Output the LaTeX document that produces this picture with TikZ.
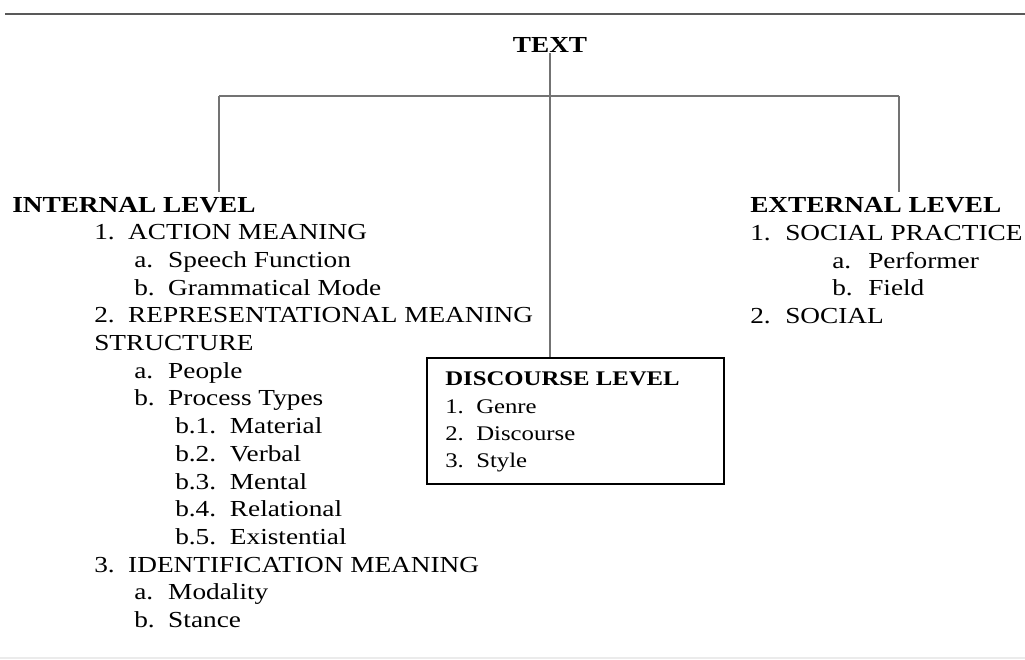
\documentclass[tikz,border=0pt]{standalone}
\usepackage{fontspec}
\setmainfont[FakeStretch=1.19]{Liberation Serif}
\newcommand{\itm}[2]{\makebox[25.5pt][l]{#1}#2}
\newcommand{\subitm}[2]{\makebox[41pt][l]{#1}#2}

\begin{document}
\begin{tikzpicture}[x=0.75pt, y=-0.75pt,
    every node/.style={anchor=base west, inner sep=0pt, font=\fontsize{17.2}{20}\selectfont},
    head/.style={font=\fontsize{17.2}{20}\selectfont\bfseries},
    boxtext/.style={font=\fontsize{15.6}{19}\selectfont},
    boxhead/.style={font=\fontsize{15.6}{19}\selectfont\bfseries},
    conn/.style={draw=black!55, line width=0.9pt},
    levelbox/.style={draw, line width=1.5pt, anchor=north west, minimum width=222.75pt, minimum height=94.5pt}]
        \useasboundingbox (0,0) rectangle (1025,660);
        \draw[line width=1.5pt, black!65] (5,14) -- (1025,14);
        \draw[line width=1pt, black!8] (0,658) -- (1025,658);

        \node[head, anchor=base] (text) at (550,53) {TEXT};

        \node[head] (int) at (12,212) {INTERNAL LEVEL};
        \node (int1) at (94,239.7) {\itm{1.}{ACTION MEANING}};
        \node (int1a) at (134,267.4) {\itm{a.}{Speech Function}};
        \node (int1b) at (134,295.1) {\itm{b.}{Grammatical Mode}};
        \node (int2) at (94,322.8) {\itm{2.}{REPRESENTATIONAL MEANING}};
        \node (int2s) at (94,350.5) {STRUCTURE};
        \node (int2a) at (134,378.2) {\itm{a.}{People}};
        \node (int2b) at (134,405.9) {\itm{b.}{Process Types}};
        \node (int2b1) at (175,433.6) {\subitm{b.1.}{Material}};
        \node (int2b2) at (175,461.3) {\subitm{b.2.}{Verbal}};
        \node (int2b3) at (175,489) {\subitm{b.3.}{Mental}};
        \node (int2b4) at (175,516.7) {\subitm{b.4.}{Relational}};
        \node (int2b5) at (175,544.4) {\subitm{b.5.}{Existential}};
        \node (int3) at (94,572.1) {\itm{3.}{IDENTIFICATION MEANING}};
        \node (int3a) at (134,599.8) {\itm{a.}{Modality}};
        \node (int3b) at (134,627.5) {\itm{b.}{Stance}};

        \node[head] (ext) at (750,212) {EXTERNAL LEVEL};
        \node (ext1) at (750,240) {\makebox[26.25pt][l]{1.}SOCIAL PRACTICE};
        \node (ext1a) at (832,268) {\makebox[27pt][l]{a.}Performer};
        \node (ext1b) at (832,295) {\makebox[27pt][l]{b.}Field};
        \node (ext2) at (750,323) {\makebox[26.25pt][l]{2.}SOCIAL};

        \node[levelbox] (disc) at (426,357) {};
        \node[boxhead] (disch) at (445,385) {DISCOURSE LEVEL};
        \node[boxtext] (disc1) at (445,413) {\makebox[23.25pt][l]{1.}Genre};
        \node[boxtext] (disc2) at (445,440) {\makebox[23.25pt][l]{2.}Discourse};
        \node[boxtext] (disc3) at (445,467) {\makebox[23.25pt][l]{3.}Style};

        \coordinate (jl) at (219,96);
        \coordinate (jr) at (899,96);
        \draw[conn] (text.south) -- (text.south |- disc.north);
        \draw[conn, shorten >=3.5pt] (jl) -- (jl |- int.north);
        \draw[conn] (jl) -- (jr);
        \draw[conn, shorten >=3.5pt] (jr) -- (jr |- ext.north);
      \end{tikzpicture}
\end{document}
